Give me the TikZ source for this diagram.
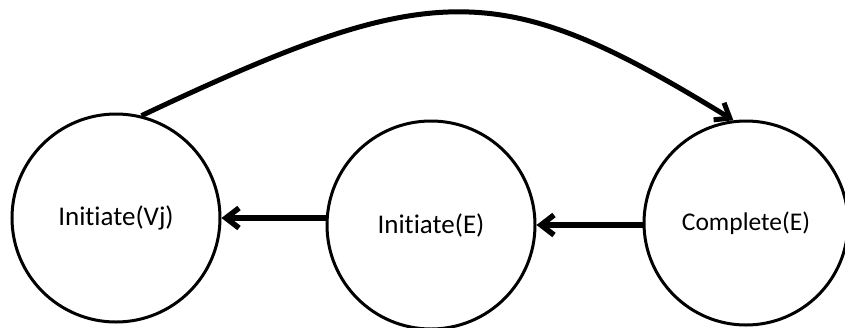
\documentclass[tikz,border=0pt]{standalone}
\usepackage{fontspec}
\setmainfont{Carlito}[Ligatures={NoCommon}]
\usetikzlibrary{arrows.meta}
\begin{document}
\begin{tikzpicture}[x=1pt,y=1pt,
  state/.style={circle,draw=black,line width=3pt,inner sep=0pt,fill=white,
    font=\fontsize{27}{32}\selectfont},
  conn/.style={line width=5.5pt,-{Straight Barb[length=13pt,width=20pt]}},
  curv/.style={line width=5pt,-{Straight Barb[length=13pt,width=20pt]}}]
\useasboundingbox (0,0) rectangle (845,-327);
\node[state,minimum size=208pt] (vj) at (116,-218) {Initiate(Vj)};
\node[state,minimum size=208pt] (ie) at (431,-225) {Initiate(E)};
\node[state,minimum size=204pt,font=\fontsize{25.5}{30}\selectfont] (ce) at (746,-223) {Complete(E)};
\draw[conn] (ie.west |- vj.east) -- (vj.east);
\draw[conn] (ce.west |- ie.east) -- (ie.east);
\draw[curv] (vj.76) .. controls (435,23) and (500,23) .. (ce.97);
\end{tikzpicture}
\end{document}
